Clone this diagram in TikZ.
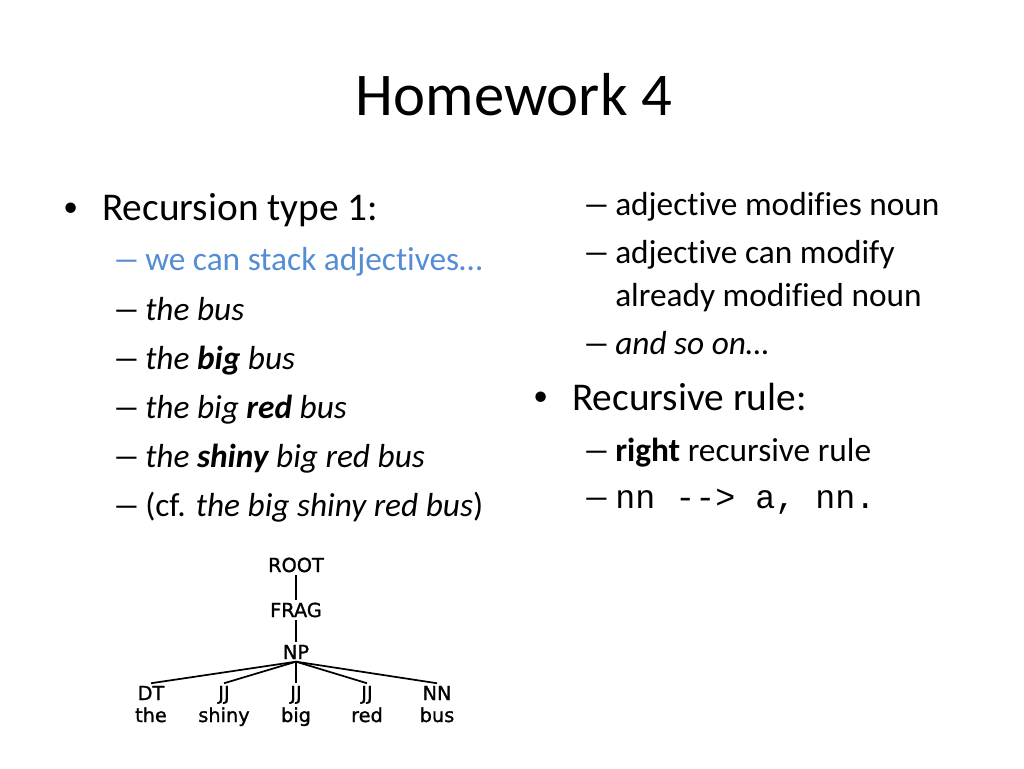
\documentclass[tikz,border=0pt]{standalone}
\usepackage{fontspec}
\setmainfont{Carlito}[Ligatures=NoCommon]
\setmonofont{Liberation Mono}
\newfontfamily\treefont{DejaVu Sans}[FakeBold=1.2]
\usepackage{xcolor}
\usetikzlibrary{positioning}
\definecolor{subblue}{RGB}{84,141,212}
\newcommand{\subdash}{\scalebox{1.7}[1]{–}}
\newcommand{\bulmark}{\scalebox{0.75}{\textbullet}}

\tikzset{
	txt/.style={anchor=base west, inner sep=0pt},
	lvlone/.style={txt, font=\fontsize{29.5}{34}\selectfont},
	lvltwo/.style={txt, font=\fontsize{25}{30}\selectfont},
	tnode/.style={inner sep=0pt, outer sep=2pt, font=\treefont\fontsize{14.5}{17}\selectfont},
	tedge/.style={line width=1.3pt}
}

\begin{document}
\begin{tikzpicture}[x=0.75pt, y=-0.75pt]
		\useasboundingbox (0,0) rectangle (1024,768);
		\draw (514,115) node[anchor=base, inner sep=0pt, font=\fontsize{45.5}{50}\selectfont] (title) {Homework 4}
		% left column
		(63,216) node[lvlone] (b1) {\bulmark}
		(102,220.7) node[lvlone] (rt1) {Recursion type 1:}
		(112,270.7) node[lvltwo, text=subblue] (d1) {\subdash}
		(145,270.7) node[lvltwo, text=subblue] (s1) {we can stack adjectives…}
		(112,320) node[lvltwo] (d2) {\subdash}
		(145,320) node[lvltwo] (s2) {\textit{the bus}}
		(112,369) node[lvltwo] (d3) {\subdash}
		(145,369) node[lvltwo] (s3) {\textit{the \textbf{big} bus}}
		(112,418) node[lvltwo] (d4) {\subdash}
		(145,418) node[lvltwo] (s4) {\textit{the big \textbf{red} bus}}
		(112,467) node[lvltwo] (d5) {\subdash}
		(145,467) node[lvltwo] (s5) {\textit{the \textbf{shiny} big red bus}}
		(112,516) node[lvltwo] (d6) {\subdash}
		(145,516) node[lvltwo] (s6) {(cf. \textit{the big shiny red bus})}
		% right column
		(582,215) node[lvltwo] (d7) {\subdash}
		(615,215) node[lvltwo] (s7) {adjective modifies noun}
		(582,263) node[lvltwo] (d8) {\subdash}
		(615,263) node[lvltwo] (s8) {adjective can modify}
		(615,306) node[lvltwo] (s8b) {already modified noun}
		(582,354) node[lvltwo] (d9) {\subdash}
		(615,354) node[lvltwo] (s9) {\textit{and so on…}}
		(533,405) node[lvlone] (b2) {\bulmark}
		(572,410) node[lvlone] (rr1) {Recursive rule:}
		(582,461) node[lvltwo] (d10) {\subdash}
		(615,461) node[lvltwo] (s10) {\textbf{right} recursive rule}
		(582,508) node[lvltwo] (d11) {\subdash}
		(615,508) node[lvltwo] (s11) {\texttt{nn -{}-> a, nn.}};

		% parse tree
		\draw (296,572) node[tnode, anchor=base] (root) {ROOT}
		(296,617) node[tnode, anchor=base] (frag) {FRAG}
		(296,659) node[tnode, anchor=base] (np) {NP}
		(151,700) node[tnode, anchor=base] (dt) {DT}
		(224,700) node[tnode, anchor=base] (jj1) {JJ}
		(296,700) node[tnode, anchor=base] (jj2) {JJ}
		(367,700) node[tnode, anchor=base] (jj3) {JJ}
		(437,700) node[tnode, anchor=base] (nn) {NN}
		(151,722) node[tnode, anchor=base] (w1) {the}
		(224,722) node[tnode, anchor=base] (w2) {shiny}
		(296,722) node[tnode, anchor=base] (w3) {big}
		(367,722) node[tnode, anchor=base] (w4) {red}
		(437,722) node[tnode, anchor=base] (w5) {bus};

		\draw[tedge] (root) -- (frag);
		\draw[tedge] (frag) -- (np);
		\draw[tedge] (np.south) -- (dt.north);
		\draw[tedge] (np.south) -- (jj1.north);
		\draw[tedge] (np.south) -- (jj2.north);
		\draw[tedge] (np.south) -- (jj3.north);
		\draw[tedge] (np.south) -- (nn.north);
	\end{tikzpicture}
\end{document}
